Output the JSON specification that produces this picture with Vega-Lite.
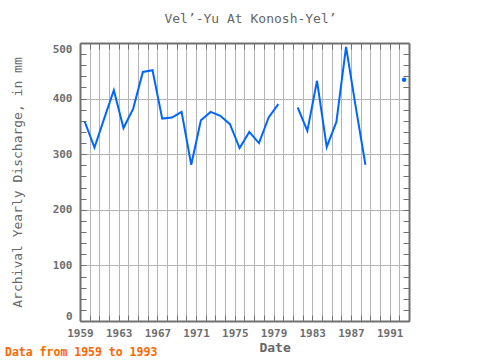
{
  "$schema": "https://vega.github.io/schema/vega-lite/v6.json",
  "autosize": "none",
  "width": 329,
  "height": 278,
  "padding": {"left": 80, "top": 43, "right": 71, "bottom": 39},
  "background": "white",
  "title": {"text": "Data from 1959 to 1993", "orient": "bottom", "anchor": "start", "frame": "group", "dx": -75, "offset": -7, "color": "#ff6600", "font": "DejaVu Sans Mono", "fontSize": 11.5, "fontWeight": "bold"},
  "config": {"view": {"stroke": null}, "font": "DejaVu Sans Mono"},
  "data": {"values": [
    {"date": "1959-07-01", "discharge": 358},
    {"date": "1960-07-01", "discharge": 312},
    {"date": "1961-07-01", "discharge": 364},
    {"date": "1962-07-01", "discharge": 415},
    {"date": "1963-07-01", "discharge": 347},
    {"date": "1964-07-01", "discharge": 382},
    {"date": "1965-07-01", "discharge": 448},
    {"date": "1966-07-01", "discharge": 451},
    {"date": "1967-07-01", "discharge": 364},
    {"date": "1968-07-01", "discharge": 366},
    {"date": "1969-07-01", "discharge": 376},
    {"date": "1970-07-01", "discharge": 281},
    {"date": "1971-07-01", "discharge": 361},
    {"date": "1972-07-01", "discharge": 376},
    {"date": "1973-07-01", "discharge": 369},
    {"date": "1974-07-01", "discharge": 354},
    {"date": "1975-07-01", "discharge": 311},
    {"date": "1976-07-01", "discharge": 340},
    {"date": "1977-07-01", "discharge": 320},
    {"date": "1978-07-01", "discharge": 366},
    {"date": "1979-07-01", "discharge": 390},
    {"date": "1980-07-01", "discharge": null},
    {"date": "1981-07-01", "discharge": 384},
    {"date": "1982-07-01", "discharge": 342},
    {"date": "1983-07-01", "discharge": 432},
    {"date": "1984-07-01", "discharge": 313},
    {"date": "1985-07-01", "discharge": 358},
    {"date": "1986-07-01", "discharge": 493},
    {"date": "1987-07-01", "discharge": 385},
    {"date": "1988-07-01", "discharge": 281},
    {"date": "1989-07-01", "discharge": null},
    {"date": "1990-07-01", "discharge": null},
    {"date": "1991-07-01", "discharge": null},
    {"date": "1992-07-01", "discharge": 434}
  ]},
  "layer": [
    {
      "mark": {"type": "line", "color": "#0066ff", "strokeWidth": 2, "invalid": "break-paths-show-domains"},
      "encoding": {
        "x": {"field": "date", "type": "temporal",
          "scale": {"type": "utc", "domain": [{"year": 1959, "month": 1, "date": 1, "utc": true}, {"year": 1993, "month": 1, "date": 1, "utc": true}]},
          "axis": {"orient": "bottom", "tickCount": {"interval": "year", "step": 1},
            "labelExpr": "(utcyear(datum.value) - 1959) % 4 == 0 ? utcFormat(datum.value, '%Y') : ''",
            "labelOverlap": false, "labelFlush": false, "labelFontSize": 11, "labelFontWeight": "bold", "labelColor": "#6e6e6e", "labelPadding": 12,
            "grid": true, "gridColor": "#b4b4b4", "gridWidth": 1,
            "ticks": true, "tickSize": -6, "tickColor": "#707070", "tickWidth": 1,
            "domain": true, "domainColor": "#707070", "domainWidth": 2,
            "title": "Date", "titleFontSize": 13, "titleColor": "#666666", "titleFontWeight": "bold",
            "titleX": 194.6, "titleY": 26, "titleAlign": "center", "titleBaseline": "middle"}},
        "y": {"field": "discharge", "type": "quantitative",
          "scale": {"domain": [0, 500], "nice": false, "zero": true},
          "axis": {"orient": "left", "values": [0,20,40,60,80,100,120,140,160,180,200,220,240,260,280,300,320,340,360,380,400,420,440,460,480,500],
            "labelExpr": "datum.value % 100 == 0 ? datum.label : ''", "labelFontSize": 11, "labelFontWeight": "bold", "labelColor": "#6e6e6e", "labelPadding": 14, "labelFlush": true,
            "gridOpacity": {"condition": {"test": "datum.value % 100 == 0", "value": 1}, "value": 0},
            "grid": true, "gridColor": "#b4b4b4", "gridWidth": 1,
            "ticks": true, "tickSize": -6, "tickColor": "#707070", "tickWidth": 1,
            "domain": true, "domainColor": "#707070", "domainWidth": 2,
            "title": "Archival Yearly Discharge, in mm", "titleFontSize": 13, "titleColor": "#666666", "titleFontWeight": "normal",
            "titleX": -63, "titleY": 139, "titleAngle": -90, "titleAlign": "center", "titleBaseline": "middle"}}
      }
    },
    {
      "transform": [{"filter": "datum.discharge != null && utcyear(toDate(datum.date)) == 1992"}],
      "mark": {"type": "point", "filled": true, "color": "#0066ff", "size": 20, "opacity": 1},
      "encoding": {
        "x": {"field": "date", "type": "temporal",
          "scale": {"type": "utc", "domain": [{"year": 1959, "month": 1, "date": 1, "utc": true}, {"year": 1993, "month": 1, "date": 1, "utc": true}]},
          "axis": {"orient": "top", "tickCount": {"interval": "year", "step": 1}, "labels": false, "grid": false,
            "ticks": true, "tickSize": -6, "tickColor": "#707070", "tickWidth": 1,
            "domain": true, "domainColor": "#707070", "domainWidth": 2,
            "title": "Vel’-Yu At Konosh-Yel’", "titleFontSize": 13, "titleColor": "#666666", "titleFontWeight": "normal",
            "titleX": 170, "titleY": -21, "titleAlign": "center", "titleBaseline": "alphabetic"}},
        "y": {"field": "discharge", "type": "quantitative",
          "scale": {"domain": [0, 500], "nice": false, "zero": true},
          "axis": {"orient": "right", "values": [0,20,40,60,80,100,120,140,160,180,200,220,240,260,280,300,320,340,360,380,400,420,440,460,480,500],
            "labels": false, "grid": false,
            "ticks": true, "tickSize": -6, "tickColor": "#707070", "tickWidth": 1,
            "domain": true, "domainColor": "#707070", "domainWidth": 2, "title": null}}
      }
    }
  ],
  "resolve": {"axis": {"x": "independent", "y": "independent"}}
}
